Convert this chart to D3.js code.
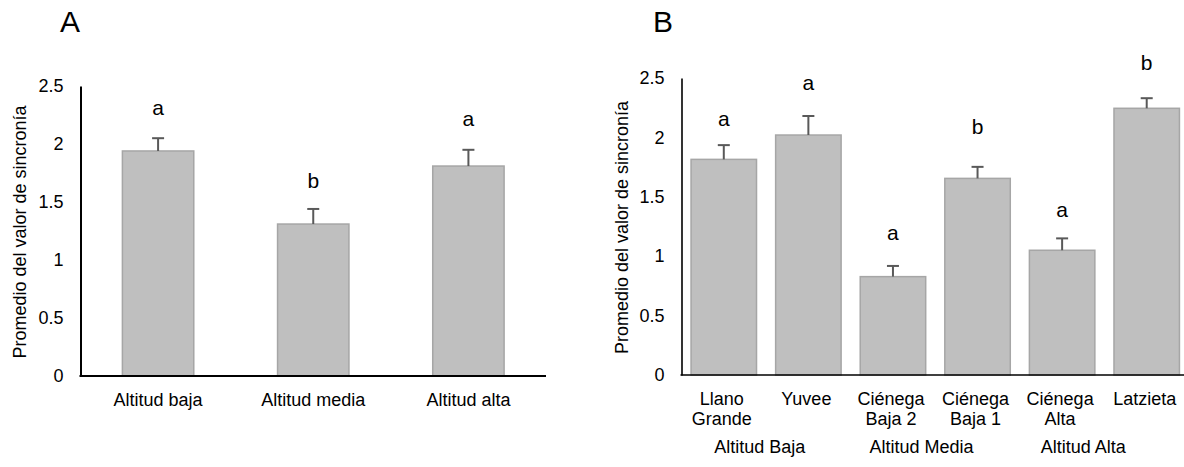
<!DOCTYPE html>
<html><head><meta charset="utf-8">
<script src="https://cdn.jsdelivr.net/npm/d3@7"></script>
<style>
html,body{margin:0;padding:0;background:#fff;}
text{font-family:"Liberation Sans",Arial,sans-serif;fill:#000;}
</style></head>
<body>
<svg id="chart" width="1184" height="467"></svg>
<script>
// ---- Data ----
const categoriesA = ["Altitud baja", "Altitud media", "Altitud alta"];
const valuesA = [1.94, 1.31, 1.81];
const errorsA = [0.11, 0.13, 0.14];
const lettersA = ["a", "b", "a"];
const letterHeightA = [2.25, 1.62, 2.155];

const categoriesB = ["Llano Grande", "Yuvee", "Ciénega Baja 2", "Ciénega Baja 1", "Ciénega Alta", "Latzieta"];
const categoryLinesB = [["Llano", "Grande"], ["Yuvee"], ["Ciénega", "Baja 2"], ["Ciénega", "Baja 1"], ["Ciénega", "Alta"], ["Latzieta"]];
const valuesB = [1.815, 2.02, 0.828, 1.655, 1.05, 2.245];
const errorsB = [0.12, 0.16, 0.09, 0.097, 0.10, 0.085];
const lettersB = ["a", "a", "a", "b", "a", "b"];
const letterHeightB = [2.096, 2.40, 1.136, 2.029, 1.33, 2.567];
const groupsB = ["Altitud Baja", "Altitud Media", "Altitud Alta"];

const yTicks = [0, 0.5, 1, 1.5, 2, 2.5];
const yTitle = "Promedio del valor de sincronía";

const svg = d3.select("#chart");
const BAR_FILL = "#bfbfbf", BAR_STROKE = "#a6a6a6", ERR = "#595959";

function panel(opts) {
  const g = svg.append("g");
  const x = d3.scaleBand().domain(opts.cats).range(opts.xRange)
    .paddingInner(opts.pad).paddingOuter(opts.pad / 2);
  const y = d3.scaleLinear().domain([0, 2.5]).range(opts.yRange);

  // bars
  g.selectAll("rect.bar").data(opts.values).enter().append("rect")
    .attr("x", (d, i) => x(opts.cats[i]))
    .attr("y", d => y(d))
    .attr("width", x.bandwidth())
    .attr("height", d => y(0) - y(d))
    .attr("fill", BAR_FILL).attr("stroke", BAR_STROKE).attr("stroke-width", 1.5);

  // error bars
  const cap = 12;
  opts.values.forEach((v, i) => {
    const cx = x(opts.cats[i]) + x.bandwidth() / 2;
    g.append("line").attr("x1", cx).attr("x2", cx).attr("y1", y(v)).attr("y2", y(v + opts.errors[i]))
      .attr("stroke", ERR).attr("stroke-width", 2);
    g.append("line").attr("x1", cx - cap / 2).attr("x2", cx + cap / 2)
      .attr("y1", y(v + opts.errors[i])).attr("y2", y(v + opts.errors[i]))
      .attr("stroke", ERR).attr("stroke-width", 2);
    g.append("text").attr("x", cx).attr("y", y(opts.letterH[i]))
      .attr("text-anchor", "middle").attr("font-size", 21).text(opts.letters[i]);
  });

  // y axis
  const yAxis = d3.axisLeft(y).tickValues(yTicks).tickSize(0).tickPadding(17)
    .tickFormat(d => d3.format("")(d));
  const ya = g.append("g").attr("transform", `translate(${opts.xRange[0]},0)`).call(yAxis);
  ya.select(".domain").attr("stroke", "#000").attr("stroke-width", opts.axisW);
  ya.selectAll("text").attr("font-size", 18).attr("fill", "#000")
    .attr("font-family", "Liberation Sans, Arial, sans-serif");

  // x axis line
  g.append("line").attr("x1", opts.xRange[0] - 1).attr("x2", opts.xRange[1])
    .attr("y1", y(0)).attr("y2", y(0)).attr("stroke", "#000").attr("stroke-width", opts.axisW);

  // y title
  g.append("text").attr("transform", `translate(${opts.titleX},${(y(0) + y(2.5)) / 2 + 1}) rotate(-90)`)
    .attr("text-anchor", "middle").attr("font-size", 18).text(yTitle);

  // panel letter
  g.append("text").attr("x", opts.letterX).attr("y", 32).attr("font-size", 30).text(opts.panelLabel);
  return { g, x, y };
}

// Panel A
const A = panel({
  cats: categoriesA, values: valuesA, errors: errorsA, letters: lettersA, letterH: letterHeightA,
  xRange: [80.5, 546], yRange: [376, 86], pad: 0.54, axisW: 2, titleX: 26, letterX: 60, panelLabel: "A"
});
categoriesA.forEach(c => {
  A.g.append("text").attr("x", A.x(c) + A.x.bandwidth() / 2).attr("y", 406)
    .attr("text-anchor", "middle").attr("font-size", 18).text(c);
});

// Panel B
const B = panel({
  cats: categoriesB, values: valuesB, errors: errorsB, letters: lettersB, letterH: letterHeightB,
  xRange: [681.5, 1189], yRange: [375, 78], pad: 0.226, axisW: 1.6, titleX: 628, letterX: 653, panelLabel: "B"
});
categoriesB.forEach((c, i) => {
  const t = B.g.append("text").attr("text-anchor", "middle").attr("font-size", 18);
  categoryLinesB[i].forEach((ln, k) => {
    t.append("tspan").attr("x", B.x(c) + B.x.bandwidth() / 2 - 2).attr("y", 405 + k * 20).text(ln);
  });
});
const gx = d3.scaleBand().domain(groupsB).range([B.x.range()[0] - 2.5, B.x.range()[0] - 2.5 + 3 * 161.7]);
groupsB.forEach(gname => {
  B.g.append("text").attr("x", gx(gname) + gx.bandwidth() / 2).attr("y", 453)
    .attr("text-anchor", "middle").attr("font-size", 18).text(gname);
});
</script>
</body></html>
